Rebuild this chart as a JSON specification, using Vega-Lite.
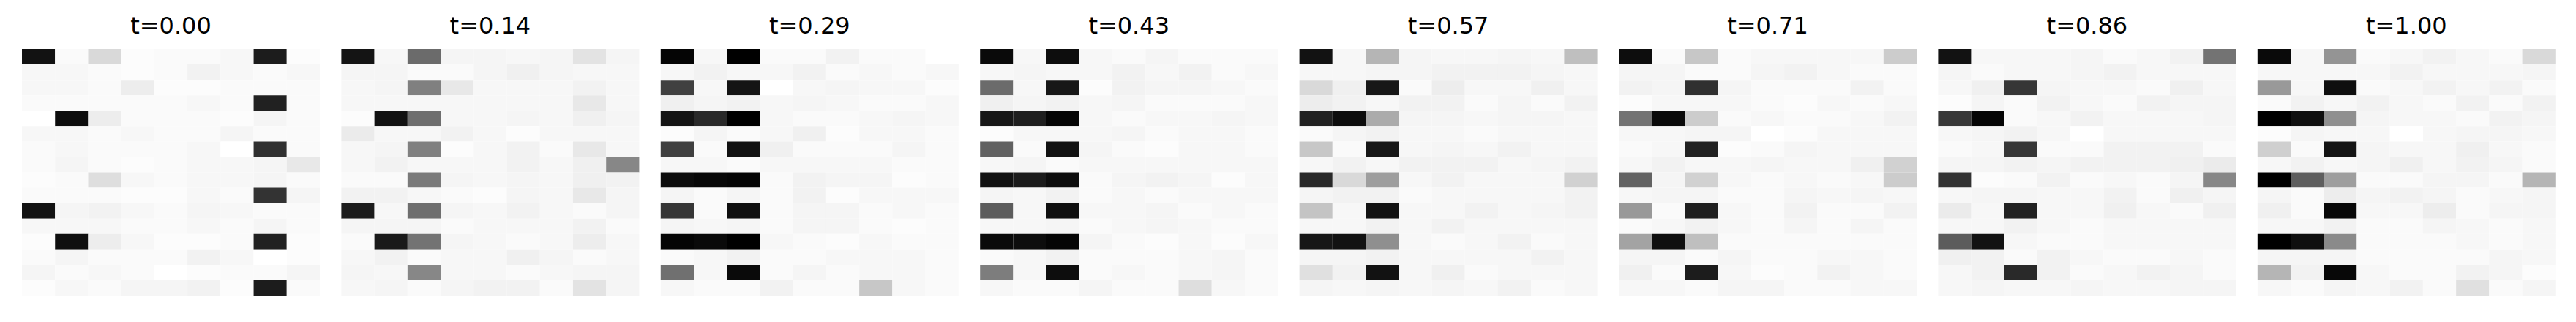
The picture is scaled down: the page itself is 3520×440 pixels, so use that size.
{
"$schema": "https://vega.github.io/schema/vega-lite/v6.json",
"padding": {"left": 30, "top": 20, "right": 0, "bottom": 0},
"autosize": {"type": "pad"},
"data": {"values": [
{"t":"t=0.00","r":0,"c":0,"v":0.93},{"t":"t=0.00","r":0,"c":1,"v":0.02},{"t":"t=0.00","r":0,"c":2,"v":0.15},{"t":"t=0.00","r":0,"c":3,"v":0.01},{"t":"t=0.00","r":0,"c":4,"v":0.02},{"t":"t=0.00","r":0,"c":5,"v":0.02},{"t":"t=0.00","r":0,"c":6,"v":0.03},{"t":"t=0.00","r":0,"c":7,"v":0.89},{"t":"t=0.00","r":0,"c":8,"v":0.01},
{"t":"t=0.00","r":1,"c":0,"v":0.03},{"t":"t=0.00","r":1,"c":1,"v":0.03},{"t":"t=0.00","r":1,"c":2,"v":0.02},{"t":"t=0.00","r":1,"c":3,"v":0.01},{"t":"t=0.00","r":1,"c":4,"v":0.02},{"t":"t=0.00","r":1,"c":5,"v":0.05},{"t":"t=0.00","r":1,"c":6,"v":0.03},{"t":"t=0.00","r":1,"c":7,"v":0.02},{"t":"t=0.00","r":1,"c":8,"v":0.03},
{"t":"t=0.00","r":2,"c":0,"v":0.03},{"t":"t=0.00","r":2,"c":1,"v":0.03},{"t":"t=0.00","r":2,"c":2,"v":0.02},{"t":"t=0.00","r":2,"c":3,"v":0.07},{"t":"t=0.00","r":2,"c":4,"v":0.01},{"t":"t=0.00","r":2,"c":5,"v":0.01},{"t":"t=0.00","r":2,"c":6,"v":0.02},{"t":"t=0.00","r":2,"c":7,"v":0.02},{"t":"t=0.00","r":2,"c":8,"v":0.02},
{"t":"t=0.00","r":3,"c":0,"v":0.02},{"t":"t=0.00","r":3,"c":1,"v":0.02},{"t":"t=0.00","r":3,"c":2,"v":0.02},{"t":"t=0.00","r":3,"c":3,"v":0.02},{"t":"t=0.00","r":3,"c":4,"v":0.02},{"t":"t=0.00","r":3,"c":5,"v":0.03},{"t":"t=0.00","r":3,"c":6,"v":0.02},{"t":"t=0.00","r":3,"c":7,"v":0.87},{"t":"t=0.00","r":3,"c":8,"v":0.02},
{"t":"t=0.00","r":4,"c":0,"v":0.0},{"t":"t=0.00","r":4,"c":1,"v":0.95},{"t":"t=0.00","r":4,"c":2,"v":0.07},{"t":"t=0.00","r":4,"c":3,"v":0.02},{"t":"t=0.00","r":4,"c":4,"v":0.02},{"t":"t=0.00","r":4,"c":5,"v":0.02},{"t":"t=0.00","r":4,"c":6,"v":0.01},{"t":"t=0.00","r":4,"c":7,"v":0.04},{"t":"t=0.00","r":4,"c":8,"v":0.02},
{"t":"t=0.00","r":5,"c":0,"v":0.03},{"t":"t=0.00","r":5,"c":1,"v":0.03},{"t":"t=0.00","r":5,"c":2,"v":0.02},{"t":"t=0.00","r":5,"c":3,"v":0.03},{"t":"t=0.00","r":5,"c":4,"v":0.02},{"t":"t=0.00","r":5,"c":5,"v":0.02},{"t":"t=0.00","r":5,"c":6,"v":0.04},{"t":"t=0.00","r":5,"c":7,"v":0.02},{"t":"t=0.00","r":5,"c":8,"v":0.02},
{"t":"t=0.00","r":6,"c":0,"v":0.02},{"t":"t=0.00","r":6,"c":1,"v":0.03},{"t":"t=0.00","r":6,"c":2,"v":0.02},{"t":"t=0.00","r":6,"c":3,"v":0.02},{"t":"t=0.00","r":6,"c":4,"v":0.02},{"t":"t=0.00","r":6,"c":5,"v":0.03},{"t":"t=0.00","r":6,"c":6,"v":0.0},{"t":"t=0.00","r":6,"c":7,"v":0.81},{"t":"t=0.00","r":6,"c":8,"v":0.02},
{"t":"t=0.00","r":7,"c":0,"v":0.02},{"t":"t=0.00","r":7,"c":1,"v":0.04},{"t":"t=0.00","r":7,"c":2,"v":0.02},{"t":"t=0.00","r":7,"c":3,"v":0.01},{"t":"t=0.00","r":7,"c":4,"v":0.02},{"t":"t=0.00","r":7,"c":5,"v":0.03},{"t":"t=0.00","r":7,"c":6,"v":0.03},{"t":"t=0.00","r":7,"c":7,"v":0.04},{"t":"t=0.00","r":7,"c":8,"v":0.09},
{"t":"t=0.00","r":8,"c":0,"v":0.01},{"t":"t=0.00","r":8,"c":1,"v":0.02},{"t":"t=0.00","r":8,"c":2,"v":0.13},{"t":"t=0.00","r":8,"c":3,"v":0.03},{"t":"t=0.00","r":8,"c":4,"v":0.02},{"t":"t=0.00","r":8,"c":5,"v":0.03},{"t":"t=0.00","r":8,"c":6,"v":0.03},{"t":"t=0.00","r":8,"c":7,"v":0.04},{"t":"t=0.00","r":8,"c":8,"v":0.02},
{"t":"t=0.00","r":9,"c":0,"v":0.02},{"t":"t=0.00","r":9,"c":1,"v":0.02},{"t":"t=0.00","r":9,"c":2,"v":0.02},{"t":"t=0.00","r":9,"c":3,"v":0.01},{"t":"t=0.00","r":9,"c":4,"v":0.01},{"t":"t=0.00","r":9,"c":5,"v":0.03},{"t":"t=0.00","r":9,"c":6,"v":0.02},{"t":"t=0.00","r":9,"c":7,"v":0.8},{"t":"t=0.00","r":9,"c":8,"v":0.04},
{"t":"t=0.00","r":10,"c":0,"v":0.93},{"t":"t=0.00","r":10,"c":1,"v":0.04},{"t":"t=0.00","r":10,"c":2,"v":0.05},{"t":"t=0.00","r":10,"c":3,"v":0.03},{"t":"t=0.00","r":10,"c":4,"v":0.02},{"t":"t=0.00","r":10,"c":5,"v":0.04},{"t":"t=0.00","r":10,"c":6,"v":0.03},{"t":"t=0.00","r":10,"c":7,"v":0.02},{"t":"t=0.00","r":10,"c":8,"v":0.02},
{"t":"t=0.00","r":11,"c":0,"v":0.03},{"t":"t=0.00","r":11,"c":1,"v":0.03},{"t":"t=0.00","r":11,"c":2,"v":0.03},{"t":"t=0.00","r":11,"c":3,"v":0.02},{"t":"t=0.00","r":11,"c":4,"v":0.02},{"t":"t=0.00","r":11,"c":5,"v":0.03},{"t":"t=0.00","r":11,"c":6,"v":0.02},{"t":"t=0.00","r":11,"c":7,"v":0.04},{"t":"t=0.00","r":11,"c":8,"v":0.02},
{"t":"t=0.00","r":12,"c":0,"v":0.01},{"t":"t=0.00","r":12,"c":1,"v":0.94},{"t":"t=0.00","r":12,"c":2,"v":0.07},{"t":"t=0.00","r":12,"c":3,"v":0.03},{"t":"t=0.00","r":12,"c":4,"v":0.01},{"t":"t=0.00","r":12,"c":5,"v":0.01},{"t":"t=0.00","r":12,"c":6,"v":0.02},{"t":"t=0.00","r":12,"c":7,"v":0.87},{"t":"t=0.00","r":12,"c":8,"v":0.01},
{"t":"t=0.00","r":13,"c":0,"v":0.02},{"t":"t=0.00","r":13,"c":1,"v":0.04},{"t":"t=0.00","r":13,"c":2,"v":0.02},{"t":"t=0.00","r":13,"c":3,"v":0.02},{"t":"t=0.00","r":13,"c":4,"v":0.02},{"t":"t=0.00","r":13,"c":5,"v":0.05},{"t":"t=0.00","r":13,"c":6,"v":0.03},{"t":"t=0.00","r":13,"c":7,"v":0.0},{"t":"t=0.00","r":13,"c":8,"v":0.01},
{"t":"t=0.00","r":14,"c":0,"v":0.04},{"t":"t=0.00","r":14,"c":1,"v":0.02},{"t":"t=0.00","r":14,"c":2,"v":0.03},{"t":"t=0.00","r":14,"c":3,"v":0.02},{"t":"t=0.00","r":14,"c":4,"v":0.0},{"t":"t=0.00","r":14,"c":5,"v":0.01},{"t":"t=0.00","r":14,"c":6,"v":0.02},{"t":"t=0.00","r":14,"c":7,"v":0.02},{"t":"t=0.00","r":14,"c":8,"v":0.04},
{"t":"t=0.00","r":15,"c":0,"v":0.01},{"t":"t=0.00","r":15,"c":1,"v":0.03},{"t":"t=0.00","r":15,"c":2,"v":0.02},{"t":"t=0.00","r":15,"c":3,"v":0.04},{"t":"t=0.00","r":15,"c":4,"v":0.04},{"t":"t=0.00","r":15,"c":5,"v":0.05},{"t":"t=0.00","r":15,"c":6,"v":0.01},{"t":"t=0.00","r":15,"c":7,"v":0.89},{"t":"t=0.00","r":15,"c":8,"v":0.02},

{"t":"t=0.14","r":0,"c":0,"v":0.92},{"t":"t=0.14","r":0,"c":1,"v":0.03},{"t":"t=0.14","r":0,"c":2,"v":0.58},{"t":"t=0.14","r":0,"c":3,"v":0.04},{"t":"t=0.14","r":0,"c":4,"v":0.04},{"t":"t=0.14","r":0,"c":5,"v":0.03},{"t":"t=0.14","r":0,"c":6,"v":0.04},{"t":"t=0.14","r":0,"c":7,"v":0.11},{"t":"t=0.14","r":0,"c":8,"v":0.04},
{"t":"t=0.14","r":1,"c":0,"v":0.04},{"t":"t=0.14","r":1,"c":1,"v":0.04},{"t":"t=0.14","r":1,"c":2,"v":0.02},{"t":"t=0.14","r":1,"c":3,"v":0.02},{"t":"t=0.14","r":1,"c":4,"v":0.04},{"t":"t=0.14","r":1,"c":5,"v":0.06},{"t":"t=0.14","r":1,"c":6,"v":0.04},{"t":"t=0.14","r":1,"c":7,"v":0.03},{"t":"t=0.14","r":1,"c":8,"v":0.03},
{"t":"t=0.14","r":2,"c":0,"v":0.03},{"t":"t=0.14","r":2,"c":1,"v":0.04},{"t":"t=0.14","r":2,"c":2,"v":0.5},{"t":"t=0.14","r":2,"c":3,"v":0.09},{"t":"t=0.14","r":2,"c":4,"v":0.03},{"t":"t=0.14","r":2,"c":5,"v":0.03},{"t":"t=0.14","r":2,"c":6,"v":0.03},{"t":"t=0.14","r":2,"c":7,"v":0.05},{"t":"t=0.14","r":2,"c":8,"v":0.03},
{"t":"t=0.14","r":3,"c":0,"v":0.03},{"t":"t=0.14","r":3,"c":1,"v":0.03},{"t":"t=0.14","r":3,"c":2,"v":0.03},{"t":"t=0.14","r":3,"c":3,"v":0.03},{"t":"t=0.14","r":3,"c":4,"v":0.03},{"t":"t=0.14","r":3,"c":5,"v":0.03},{"t":"t=0.14","r":3,"c":6,"v":0.03},{"t":"t=0.14","r":3,"c":7,"v":0.09},{"t":"t=0.14","r":3,"c":8,"v":0.03},
{"t":"t=0.14","r":4,"c":0,"v":0.01},{"t":"t=0.14","r":4,"c":1,"v":0.93},{"t":"t=0.14","r":4,"c":2,"v":0.57},{"t":"t=0.14","r":4,"c":3,"v":0.03},{"t":"t=0.14","r":4,"c":4,"v":0.03},{"t":"t=0.14","r":4,"c":5,"v":0.04},{"t":"t=0.14","r":4,"c":6,"v":0.03},{"t":"t=0.14","r":4,"c":7,"v":0.06},{"t":"t=0.14","r":4,"c":8,"v":0.04},
{"t":"t=0.14","r":5,"c":0,"v":0.08},{"t":"t=0.14","r":5,"c":1,"v":0.03},{"t":"t=0.14","r":5,"c":2,"v":0.03},{"t":"t=0.14","r":5,"c":3,"v":0.05},{"t":"t=0.14","r":5,"c":4,"v":0.03},{"t":"t=0.14","r":5,"c":5,"v":0.01},{"t":"t=0.14","r":5,"c":6,"v":0.03},{"t":"t=0.14","r":5,"c":7,"v":0.03},{"t":"t=0.14","r":5,"c":8,"v":0.03},
{"t":"t=0.14","r":6,"c":0,"v":0.03},{"t":"t=0.14","r":6,"c":1,"v":0.04},{"t":"t=0.14","r":6,"c":2,"v":0.5},{"t":"t=0.14","r":6,"c":3,"v":0.01},{"t":"t=0.14","r":6,"c":4,"v":0.03},{"t":"t=0.14","r":6,"c":5,"v":0.05},{"t":"t=0.14","r":6,"c":6,"v":0.02},{"t":"t=0.14","r":6,"c":7,"v":0.09},{"t":"t=0.14","r":6,"c":8,"v":0.03},
{"t":"t=0.14","r":7,"c":0,"v":0.03},{"t":"t=0.14","r":7,"c":1,"v":0.05},{"t":"t=0.14","r":7,"c":2,"v":0.03},{"t":"t=0.14","r":7,"c":3,"v":0.03},{"t":"t=0.14","r":7,"c":4,"v":0.03},{"t":"t=0.14","r":7,"c":5,"v":0.05},{"t":"t=0.14","r":7,"c":6,"v":0.03},{"t":"t=0.14","r":7,"c":7,"v":0.06},{"t":"t=0.14","r":7,"c":8,"v":0.47},
{"t":"t=0.14","r":8,"c":0,"v":0.02},{"t":"t=0.14","r":8,"c":1,"v":0.02},{"t":"t=0.14","r":8,"c":2,"v":0.52},{"t":"t=0.14","r":8,"c":3,"v":0.04},{"t":"t=0.14","r":8,"c":4,"v":0.03},{"t":"t=0.14","r":8,"c":5,"v":0.04},{"t":"t=0.14","r":8,"c":6,"v":0.03},{"t":"t=0.14","r":8,"c":7,"v":0.06},{"t":"t=0.14","r":8,"c":8,"v":0.05},
{"t":"t=0.14","r":9,"c":0,"v":0.05},{"t":"t=0.14","r":9,"c":1,"v":0.05},{"t":"t=0.14","r":9,"c":2,"v":0.03},{"t":"t=0.14","r":9,"c":3,"v":0.02},{"t":"t=0.14","r":9,"c":4,"v":0.01},{"t":"t=0.14","r":9,"c":5,"v":0.04},{"t":"t=0.14","r":9,"c":6,"v":0.03},{"t":"t=0.14","r":9,"c":7,"v":0.09},{"t":"t=0.14","r":9,"c":8,"v":0.04},
{"t":"t=0.14","r":10,"c":0,"v":0.89},{"t":"t=0.14","r":10,"c":1,"v":0.03},{"t":"t=0.14","r":10,"c":2,"v":0.57},{"t":"t=0.14","r":10,"c":3,"v":0.04},{"t":"t=0.14","r":10,"c":4,"v":0.03},{"t":"t=0.14","r":10,"c":5,"v":0.05},{"t":"t=0.14","r":10,"c":6,"v":0.03},{"t":"t=0.14","r":10,"c":7,"v":0.02},{"t":"t=0.14","r":10,"c":8,"v":0.04},
{"t":"t=0.14","r":11,"c":0,"v":0.04},{"t":"t=0.14","r":11,"c":1,"v":0.04},{"t":"t=0.14","r":11,"c":2,"v":0.04},{"t":"t=0.14","r":11,"c":3,"v":0.02},{"t":"t=0.14","r":11,"c":4,"v":0.03},{"t":"t=0.14","r":11,"c":5,"v":0.03},{"t":"t=0.14","r":11,"c":6,"v":0.03},{"t":"t=0.14","r":11,"c":7,"v":0.05},{"t":"t=0.14","r":11,"c":8,"v":0.02},
{"t":"t=0.14","r":12,"c":0,"v":0.02},{"t":"t=0.14","r":12,"c":1,"v":0.9},{"t":"t=0.14","r":12,"c":2,"v":0.55},{"t":"t=0.14","r":12,"c":3,"v":0.04},{"t":"t=0.14","r":12,"c":4,"v":0.03},{"t":"t=0.14","r":12,"c":5,"v":0.02},{"t":"t=0.14","r":12,"c":6,"v":0.03},{"t":"t=0.14","r":12,"c":7,"v":0.07},{"t":"t=0.14","r":12,"c":8,"v":0.03},
{"t":"t=0.14","r":13,"c":0,"v":0.03},{"t":"t=0.14","r":13,"c":1,"v":0.05},{"t":"t=0.14","r":13,"c":2,"v":0.02},{"t":"t=0.14","r":13,"c":3,"v":0.03},{"t":"t=0.14","r":13,"c":4,"v":0.03},{"t":"t=0.14","r":13,"c":5,"v":0.06},{"t":"t=0.14","r":13,"c":6,"v":0.04},{"t":"t=0.14","r":13,"c":7,"v":0.02},{"t":"t=0.14","r":13,"c":8,"v":0.03},
{"t":"t=0.14","r":14,"c":0,"v":0.04},{"t":"t=0.14","r":14,"c":1,"v":0.03},{"t":"t=0.14","r":14,"c":2,"v":0.47},{"t":"t=0.14","r":14,"c":3,"v":0.03},{"t":"t=0.14","r":14,"c":4,"v":0.03},{"t":"t=0.14","r":14,"c":5,"v":0.02},{"t":"t=0.14","r":14,"c":6,"v":0.03},{"t":"t=0.14","r":14,"c":7,"v":0.04},{"t":"t=0.14","r":14,"c":8,"v":0.04},
{"t":"t=0.14","r":15,"c":0,"v":0.03},{"t":"t=0.14","r":15,"c":1,"v":0.04},{"t":"t=0.14","r":15,"c":2,"v":0.02},{"t":"t=0.14","r":15,"c":3,"v":0.04},{"t":"t=0.14","r":15,"c":4,"v":0.05},{"t":"t=0.14","r":15,"c":5,"v":0.05},{"t":"t=0.14","r":15,"c":6,"v":0.02},{"t":"t=0.14","r":15,"c":7,"v":0.11},{"t":"t=0.14","r":15,"c":8,"v":0.04},

{"t":"t=0.29","r":0,"c":0,"v":0.98},{"t":"t=0.29","r":0,"c":1,"v":0.03},{"t":"t=0.29","r":0,"c":2,"v":1.0},{"t":"t=0.29","r":0,"c":3,"v":0.02},{"t":"t=0.29","r":0,"c":4,"v":0.02},{"t":"t=0.29","r":0,"c":5,"v":0.05},{"t":"t=0.29","r":0,"c":6,"v":0.02},{"t":"t=0.29","r":0,"c":7,"v":0.02},{"t":"t=0.29","r":0,"c":8,"v":0.0},
{"t":"t=0.29","r":1,"c":0,"v":0.03},{"t":"t=0.29","r":1,"c":1,"v":0.05},{"t":"t=0.29","r":1,"c":2,"v":0.03},{"t":"t=0.29","r":1,"c":3,"v":0.03},{"t":"t=0.29","r":1,"c":4,"v":0.05},{"t":"t=0.29","r":1,"c":5,"v":0.02},{"t":"t=0.29","r":1,"c":6,"v":0.03},{"t":"t=0.29","r":1,"c":7,"v":0.02},{"t":"t=0.29","r":1,"c":8,"v":0.03},
{"t":"t=0.29","r":2,"c":0,"v":0.75},{"t":"t=0.29","r":2,"c":1,"v":0.03},{"t":"t=0.29","r":2,"c":2,"v":0.92},{"t":"t=0.29","r":2,"c":3,"v":0.0},{"t":"t=0.29","r":2,"c":4,"v":0.03},{"t":"t=0.29","r":2,"c":5,"v":0.04},{"t":"t=0.29","r":2,"c":6,"v":0.03},{"t":"t=0.29","r":2,"c":7,"v":0.03},{"t":"t=0.29","r":2,"c":8,"v":0.01},
{"t":"t=0.29","r":3,"c":0,"v":0.06},{"t":"t=0.29","r":3,"c":1,"v":0.04},{"t":"t=0.29","r":3,"c":2,"v":0.05},{"t":"t=0.29","r":3,"c":3,"v":0.03},{"t":"t=0.29","r":3,"c":4,"v":0.04},{"t":"t=0.29","r":3,"c":5,"v":0.03},{"t":"t=0.29","r":3,"c":6,"v":0.02},{"t":"t=0.29","r":3,"c":7,"v":0.02},{"t":"t=0.29","r":3,"c":8,"v":0.03},
{"t":"t=0.29","r":4,"c":0,"v":0.92},{"t":"t=0.29","r":4,"c":1,"v":0.84},{"t":"t=0.29","r":4,"c":2,"v":1.0},{"t":"t=0.29","r":4,"c":3,"v":0.03},{"t":"t=0.29","r":4,"c":4,"v":0.02},{"t":"t=0.29","r":4,"c":5,"v":0.02},{"t":"t=0.29","r":4,"c":6,"v":0.03},{"t":"t=0.29","r":4,"c":7,"v":0.04},{"t":"t=0.29","r":4,"c":8,"v":0.03},
{"t":"t=0.29","r":5,"c":0,"v":0.01},{"t":"t=0.29","r":5,"c":1,"v":0.04},{"t":"t=0.29","r":5,"c":2,"v":0.02},{"t":"t=0.29","r":5,"c":3,"v":0.03},{"t":"t=0.29","r":5,"c":4,"v":0.06},{"t":"t=0.29","r":5,"c":5,"v":0.01},{"t":"t=0.29","r":5,"c":6,"v":0.03},{"t":"t=0.29","r":5,"c":7,"v":0.03},{"t":"t=0.29","r":5,"c":8,"v":0.02},
{"t":"t=0.29","r":6,"c":0,"v":0.75},{"t":"t=0.29","r":6,"c":1,"v":0.02},{"t":"t=0.29","r":6,"c":2,"v":0.93},{"t":"t=0.29","r":6,"c":3,"v":0.06},{"t":"t=0.29","r":6,"c":4,"v":0.02},{"t":"t=0.29","r":6,"c":5,"v":0.02},{"t":"t=0.29","r":6,"c":6,"v":0.02},{"t":"t=0.29","r":6,"c":7,"v":0.04},{"t":"t=0.29","r":6,"c":8,"v":0.02},
{"t":"t=0.29","r":7,"c":0,"v":0.03},{"t":"t=0.29","r":7,"c":1,"v":0.03},{"t":"t=0.29","r":7,"c":2,"v":0.02},{"t":"t=0.29","r":7,"c":3,"v":0.03},{"t":"t=0.29","r":7,"c":4,"v":0.03},{"t":"t=0.29","r":7,"c":5,"v":0.03},{"t":"t=0.29","r":7,"c":6,"v":0.03},{"t":"t=0.29","r":7,"c":7,"v":0.02},{"t":"t=0.29","r":7,"c":8,"v":0.02},
{"t":"t=0.29","r":8,"c":0,"v":0.95},{"t":"t=0.29","r":8,"c":1,"v":0.97},{"t":"t=0.29","r":8,"c":2,"v":0.98},{"t":"t=0.29","r":8,"c":3,"v":0.02},{"t":"t=0.29","r":8,"c":4,"v":0.05},{"t":"t=0.29","r":8,"c":5,"v":0.04},{"t":"t=0.29","r":8,"c":6,"v":0.04},{"t":"t=0.29","r":8,"c":7,"v":0.01},{"t":"t=0.29","r":8,"c":8,"v":0.02},
{"t":"t=0.29","r":9,"c":0,"v":0.04},{"t":"t=0.29","r":9,"c":1,"v":0.02},{"t":"t=0.29","r":9,"c":2,"v":0.04},{"t":"t=0.29","r":9,"c":3,"v":0.02},{"t":"t=0.29","r":9,"c":4,"v":0.05},{"t":"t=0.29","r":9,"c":5,"v":0.01},{"t":"t=0.29","r":9,"c":6,"v":0.03},{"t":"t=0.29","r":9,"c":7,"v":0.03},{"t":"t=0.29","r":9,"c":8,"v":0.03},
{"t":"t=0.29","r":10,"c":0,"v":0.79},{"t":"t=0.29","r":10,"c":1,"v":0.02},{"t":"t=0.29","r":10,"c":2,"v":0.94},{"t":"t=0.29","r":10,"c":3,"v":0.02},{"t":"t=0.29","r":10,"c":4,"v":0.04},{"t":"t=0.29","r":10,"c":5,"v":0.04},{"t":"t=0.29","r":10,"c":6,"v":0.02},{"t":"t=0.29","r":10,"c":7,"v":0.03},{"t":"t=0.29","r":10,"c":8,"v":0.02},
{"t":"t=0.29","r":11,"c":0,"v":0.04},{"t":"t=0.29","r":11,"c":1,"v":0.03},{"t":"t=0.29","r":11,"c":2,"v":0.04},{"t":"t=0.29","r":11,"c":3,"v":0.02},{"t":"t=0.29","r":11,"c":4,"v":0.04},{"t":"t=0.29","r":11,"c":5,"v":0.04},{"t":"t=0.29","r":11,"c":6,"v":0.02},{"t":"t=0.29","r":11,"c":7,"v":0.01},{"t":"t=0.29","r":11,"c":8,"v":0.02},
{"t":"t=0.29","r":12,"c":0,"v":0.98},{"t":"t=0.29","r":12,"c":1,"v":0.96},{"t":"t=0.29","r":12,"c":2,"v":1.0},{"t":"t=0.29","r":12,"c":3,"v":0.03},{"t":"t=0.29","r":12,"c":4,"v":0.02},{"t":"t=0.29","r":12,"c":5,"v":0.01},{"t":"t=0.29","r":12,"c":6,"v":0.03},{"t":"t=0.29","r":12,"c":7,"v":0.02},{"t":"t=0.29","r":12,"c":8,"v":0.02},
{"t":"t=0.29","r":13,"c":0,"v":0.02},{"t":"t=0.29","r":13,"c":1,"v":0.03},{"t":"t=0.29","r":13,"c":2,"v":0.05},{"t":"t=0.29","r":13,"c":3,"v":0.02},{"t":"t=0.29","r":13,"c":4,"v":0.02},{"t":"t=0.29","r":13,"c":5,"v":0.03},{"t":"t=0.29","r":13,"c":6,"v":0.03},{"t":"t=0.29","r":13,"c":7,"v":0.03},{"t":"t=0.29","r":13,"c":8,"v":0.02},
{"t":"t=0.29","r":14,"c":0,"v":0.56},{"t":"t=0.29","r":14,"c":1,"v":0.03},{"t":"t=0.29","r":14,"c":2,"v":0.96},{"t":"t=0.29","r":14,"c":3,"v":0.02},{"t":"t=0.29","r":14,"c":4,"v":0.04},{"t":"t=0.29","r":14,"c":5,"v":0.02},{"t":"t=0.29","r":14,"c":6,"v":0.03},{"t":"t=0.29","r":14,"c":7,"v":0.03},{"t":"t=0.29","r":14,"c":8,"v":0.02},
{"t":"t=0.29","r":15,"c":0,"v":0.03},{"t":"t=0.29","r":15,"c":1,"v":0.02},{"t":"t=0.29","r":15,"c":2,"v":0.02},{"t":"t=0.29","r":15,"c":3,"v":0.05},{"t":"t=0.29","r":15,"c":4,"v":0.02},{"t":"t=0.29","r":15,"c":5,"v":0.02},{"t":"t=0.29","r":15,"c":6,"v":0.22},{"t":"t=0.29","r":15,"c":7,"v":0.03},{"t":"t=0.29","r":15,"c":8,"v":0.02},

{"t":"t=0.43","r":0,"c":0,"v":0.96},{"t":"t=0.43","r":0,"c":1,"v":0.03},{"t":"t=0.43","r":0,"c":2,"v":0.95},{"t":"t=0.43","r":0,"c":3,"v":0.03},{"t":"t=0.43","r":0,"c":4,"v":0.02},{"t":"t=0.43","r":0,"c":5,"v":0.04},{"t":"t=0.43","r":0,"c":6,"v":0.02},{"t":"t=0.43","r":0,"c":7,"v":0.02},{"t":"t=0.43","r":0,"c":8,"v":0.02},
{"t":"t=0.43","r":1,"c":0,"v":0.03},{"t":"t=0.43","r":1,"c":1,"v":0.04},{"t":"t=0.43","r":1,"c":2,"v":0.03},{"t":"t=0.43","r":1,"c":3,"v":0.03},{"t":"t=0.43","r":1,"c":4,"v":0.05},{"t":"t=0.43","r":1,"c":5,"v":0.03},{"t":"t=0.43","r":1,"c":6,"v":0.05},{"t":"t=0.43","r":1,"c":7,"v":0.02},{"t":"t=0.43","r":1,"c":8,"v":0.03},
{"t":"t=0.43","r":2,"c":0,"v":0.58},{"t":"t=0.43","r":2,"c":1,"v":0.03},{"t":"t=0.43","r":2,"c":2,"v":0.91},{"t":"t=0.43","r":2,"c":3,"v":0.01},{"t":"t=0.43","r":2,"c":4,"v":0.05},{"t":"t=0.43","r":2,"c":5,"v":0.04},{"t":"t=0.43","r":2,"c":6,"v":0.04},{"t":"t=0.43","r":2,"c":7,"v":0.03},{"t":"t=0.43","r":2,"c":8,"v":0.02},
{"t":"t=0.43","r":3,"c":0,"v":0.06},{"t":"t=0.43","r":3,"c":1,"v":0.04},{"t":"t=0.43","r":3,"c":2,"v":0.05},{"t":"t=0.43","r":3,"c":3,"v":0.03},{"t":"t=0.43","r":3,"c":4,"v":0.04},{"t":"t=0.43","r":3,"c":5,"v":0.02},{"t":"t=0.43","r":3,"c":6,"v":0.02},{"t":"t=0.43","r":3,"c":7,"v":0.02},{"t":"t=0.43","r":3,"c":8,"v":0.03},
{"t":"t=0.43","r":4,"c":0,"v":0.91},{"t":"t=0.43","r":4,"c":1,"v":0.88},{"t":"t=0.43","r":4,"c":2,"v":0.98},{"t":"t=0.43","r":4,"c":3,"v":0.03},{"t":"t=0.43","r":4,"c":4,"v":0.02},{"t":"t=0.43","r":4,"c":5,"v":0.03},{"t":"t=0.43","r":4,"c":6,"v":0.03},{"t":"t=0.43","r":4,"c":7,"v":0.04},{"t":"t=0.43","r":4,"c":8,"v":0.03},
{"t":"t=0.43","r":5,"c":0,"v":0.01},{"t":"t=0.43","r":5,"c":1,"v":0.03},{"t":"t=0.43","r":5,"c":2,"v":0.03},{"t":"t=0.43","r":5,"c":3,"v":0.03},{"t":"t=0.43","r":5,"c":4,"v":0.04},{"t":"t=0.43","r":5,"c":5,"v":0.02},{"t":"t=0.43","r":5,"c":6,"v":0.03},{"t":"t=0.43","r":5,"c":7,"v":0.03},{"t":"t=0.43","r":5,"c":8,"v":0.02},
{"t":"t=0.43","r":6,"c":0,"v":0.62},{"t":"t=0.43","r":6,"c":1,"v":0.02},{"t":"t=0.43","r":6,"c":2,"v":0.93},{"t":"t=0.43","r":6,"c":3,"v":0.04},{"t":"t=0.43","r":6,"c":4,"v":0.02},{"t":"t=0.43","r":6,"c":5,"v":0.01},{"t":"t=0.43","r":6,"c":6,"v":0.03},{"t":"t=0.43","r":6,"c":7,"v":0.03},{"t":"t=0.43","r":6,"c":8,"v":0.02},
{"t":"t=0.43","r":7,"c":0,"v":0.03},{"t":"t=0.43","r":7,"c":1,"v":0.04},{"t":"t=0.43","r":7,"c":2,"v":0.02},{"t":"t=0.43","r":7,"c":3,"v":0.03},{"t":"t=0.43","r":7,"c":4,"v":0.03},{"t":"t=0.43","r":7,"c":5,"v":0.03},{"t":"t=0.43","r":7,"c":6,"v":0.03},{"t":"t=0.43","r":7,"c":7,"v":0.03},{"t":"t=0.43","r":7,"c":8,"v":0.03},
{"t":"t=0.43","r":8,"c":0,"v":0.93},{"t":"t=0.43","r":8,"c":1,"v":0.89},{"t":"t=0.43","r":8,"c":2,"v":0.95},{"t":"t=0.43","r":8,"c":3,"v":0.02},{"t":"t=0.43","r":8,"c":4,"v":0.04},{"t":"t=0.43","r":8,"c":5,"v":0.05},{"t":"t=0.43","r":8,"c":6,"v":0.04},{"t":"t=0.43","r":8,"c":7,"v":0.01},{"t":"t=0.43","r":8,"c":8,"v":0.03},
{"t":"t=0.43","r":9,"c":0,"v":0.04},{"t":"t=0.43","r":9,"c":1,"v":0.03},{"t":"t=0.43","r":9,"c":2,"v":0.05},{"t":"t=0.43","r":9,"c":3,"v":0.02},{"t":"t=0.43","r":9,"c":4,"v":0.03},{"t":"t=0.43","r":9,"c":5,"v":0.02},{"t":"t=0.43","r":9,"c":6,"v":0.03},{"t":"t=0.43","r":9,"c":7,"v":0.03},{"t":"t=0.43","r":9,"c":8,"v":0.03},
{"t":"t=0.43","r":10,"c":0,"v":0.64},{"t":"t=0.43","r":10,"c":1,"v":0.03},{"t":"t=0.43","r":10,"c":2,"v":0.94},{"t":"t=0.43","r":10,"c":3,"v":0.03},{"t":"t=0.43","r":10,"c":4,"v":0.03},{"t":"t=0.43","r":10,"c":5,"v":0.04},{"t":"t=0.43","r":10,"c":6,"v":0.02},{"t":"t=0.43","r":10,"c":7,"v":0.03},{"t":"t=0.43","r":10,"c":8,"v":0.02},
{"t":"t=0.43","r":11,"c":0,"v":0.03},{"t":"t=0.43","r":11,"c":1,"v":0.03},{"t":"t=0.43","r":11,"c":2,"v":0.04},{"t":"t=0.43","r":11,"c":3,"v":0.02},{"t":"t=0.43","r":11,"c":4,"v":0.03},{"t":"t=0.43","r":11,"c":5,"v":0.04},{"t":"t=0.43","r":11,"c":6,"v":0.03},{"t":"t=0.43","r":11,"c":7,"v":0.02},{"t":"t=0.43","r":11,"c":8,"v":0.02},
{"t":"t=0.43","r":12,"c":0,"v":0.96},{"t":"t=0.43","r":12,"c":1,"v":0.95},{"t":"t=0.43","r":12,"c":2,"v":0.98},{"t":"t=0.43","r":12,"c":3,"v":0.04},{"t":"t=0.43","r":12,"c":4,"v":0.02},{"t":"t=0.43","r":12,"c":5,"v":0.01},{"t":"t=0.43","r":12,"c":6,"v":0.03},{"t":"t=0.43","r":12,"c":7,"v":0.01},{"t":"t=0.43","r":12,"c":8,"v":0.03},
{"t":"t=0.43","r":13,"c":0,"v":0.02},{"t":"t=0.43","r":13,"c":1,"v":0.03},{"t":"t=0.43","r":13,"c":2,"v":0.05},{"t":"t=0.43","r":13,"c":3,"v":0.02},{"t":"t=0.43","r":13,"c":4,"v":0.02},{"t":"t=0.43","r":13,"c":5,"v":0.02},{"t":"t=0.43","r":13,"c":6,"v":0.03},{"t":"t=0.43","r":13,"c":7,"v":0.04},{"t":"t=0.43","r":13,"c":8,"v":0.02},
{"t":"t=0.43","r":14,"c":0,"v":0.51},{"t":"t=0.43","r":14,"c":1,"v":0.03},{"t":"t=0.43","r":14,"c":2,"v":0.95},{"t":"t=0.43","r":14,"c":3,"v":0.02},{"t":"t=0.43","r":14,"c":4,"v":0.03},{"t":"t=0.43","r":14,"c":5,"v":0.02},{"t":"t=0.43","r":14,"c":6,"v":0.03},{"t":"t=0.43","r":14,"c":7,"v":0.04},{"t":"t=0.43","r":14,"c":8,"v":0.02},
{"t":"t=0.43","r":15,"c":0,"v":0.03},{"t":"t=0.43","r":15,"c":1,"v":0.02},{"t":"t=0.43","r":15,"c":2,"v":0.02},{"t":"t=0.43","r":15,"c":3,"v":0.04},{"t":"t=0.43","r":15,"c":4,"v":0.02},{"t":"t=0.43","r":15,"c":5,"v":0.02},{"t":"t=0.43","r":15,"c":6,"v":0.13},{"t":"t=0.43","r":15,"c":7,"v":0.03},{"t":"t=0.43","r":15,"c":8,"v":0.02},

{"t":"t=0.57","r":0,"c":0,"v":0.93},{"t":"t=0.57","r":0,"c":1,"v":0.03},{"t":"t=0.57","r":0,"c":2,"v":0.29},{"t":"t=0.57","r":0,"c":3,"v":0.04},{"t":"t=0.57","r":0,"c":4,"v":0.03},{"t":"t=0.57","r":0,"c":5,"v":0.03},{"t":"t=0.57","r":0,"c":6,"v":0.04},{"t":"t=0.57","r":0,"c":7,"v":0.03},{"t":"t=0.57","r":0,"c":8,"v":0.25},
{"t":"t=0.57","r":1,"c":0,"v":0.03},{"t":"t=0.57","r":1,"c":1,"v":0.03},{"t":"t=0.57","r":1,"c":2,"v":0.04},{"t":"t=0.57","r":1,"c":3,"v":0.04},{"t":"t=0.57","r":1,"c":4,"v":0.05},{"t":"t=0.57","r":1,"c":5,"v":0.05},{"t":"t=0.57","r":1,"c":6,"v":0.05},{"t":"t=0.57","r":1,"c":7,"v":0.04},{"t":"t=0.57","r":1,"c":8,"v":0.03},
{"t":"t=0.57","r":2,"c":0,"v":0.15},{"t":"t=0.57","r":2,"c":1,"v":0.06},{"t":"t=0.57","r":2,"c":2,"v":0.91},{"t":"t=0.57","r":2,"c":3,"v":0.02},{"t":"t=0.57","r":2,"c":4,"v":0.07},{"t":"t=0.57","r":2,"c":5,"v":0.03},{"t":"t=0.57","r":2,"c":6,"v":0.03},{"t":"t=0.57","r":2,"c":7,"v":0.06},{"t":"t=0.57","r":2,"c":8,"v":0.03},
{"t":"t=0.57","r":3,"c":0,"v":0.07},{"t":"t=0.57","r":3,"c":1,"v":0.05},{"t":"t=0.57","r":3,"c":2,"v":0.03},{"t":"t=0.57","r":3,"c":3,"v":0.05},{"t":"t=0.57","r":3,"c":4,"v":0.05},{"t":"t=0.57","r":3,"c":5,"v":0.02},{"t":"t=0.57","r":3,"c":6,"v":0.04},{"t":"t=0.57","r":3,"c":7,"v":0.02},{"t":"t=0.57","r":3,"c":8,"v":0.05},
{"t":"t=0.57","r":4,"c":0,"v":0.87},{"t":"t=0.57","r":4,"c":1,"v":0.95},{"t":"t=0.57","r":4,"c":2,"v":0.33},{"t":"t=0.57","r":4,"c":3,"v":0.04},{"t":"t=0.57","r":4,"c":4,"v":0.04},{"t":"t=0.57","r":4,"c":5,"v":0.03},{"t":"t=0.57","r":4,"c":6,"v":0.04},{"t":"t=0.57","r":4,"c":7,"v":0.04},{"t":"t=0.57","r":4,"c":8,"v":0.03},
{"t":"t=0.57","r":5,"c":0,"v":0.02},{"t":"t=0.57","r":5,"c":1,"v":0.04},{"t":"t=0.57","r":5,"c":2,"v":0.05},{"t":"t=0.57","r":5,"c":3,"v":0.03},{"t":"t=0.57","r":5,"c":4,"v":0.03},{"t":"t=0.57","r":5,"c":5,"v":0.02},{"t":"t=0.57","r":5,"c":6,"v":0.03},{"t":"t=0.57","r":5,"c":7,"v":0.03},{"t":"t=0.57","r":5,"c":8,"v":0.03},
{"t":"t=0.57","r":6,"c":0,"v":0.22},{"t":"t=0.57","r":6,"c":1,"v":0.02},{"t":"t=0.57","r":6,"c":2,"v":0.91},{"t":"t=0.57","r":6,"c":3,"v":0.03},{"t":"t=0.57","r":6,"c":4,"v":0.04},{"t":"t=0.57","r":6,"c":5,"v":0.03},{"t":"t=0.57","r":6,"c":6,"v":0.05},{"t":"t=0.57","r":6,"c":7,"v":0.03},{"t":"t=0.57","r":6,"c":8,"v":0.03},
{"t":"t=0.57","r":7,"c":0,"v":0.03},{"t":"t=0.57","r":7,"c":1,"v":0.05},{"t":"t=0.57","r":7,"c":2,"v":0.03},{"t":"t=0.57","r":7,"c":3,"v":0.05},{"t":"t=0.57","r":7,"c":4,"v":0.05},{"t":"t=0.57","r":7,"c":5,"v":0.05},{"t":"t=0.57","r":7,"c":6,"v":0.03},{"t":"t=0.57","r":7,"c":7,"v":0.04},{"t":"t=0.57","r":7,"c":8,"v":0.05},
{"t":"t=0.57","r":8,"c":0,"v":0.84},{"t":"t=0.57","r":8,"c":1,"v":0.15},{"t":"t=0.57","r":8,"c":2,"v":0.38},{"t":"t=0.57","r":8,"c":3,"v":0.03},{"t":"t=0.57","r":8,"c":4,"v":0.05},{"t":"t=0.57","r":8,"c":5,"v":0.03},{"t":"t=0.57","r":8,"c":6,"v":0.03},{"t":"t=0.57","r":8,"c":7,"v":0.03},{"t":"t=0.57","r":8,"c":8,"v":0.18},
{"t":"t=0.57","r":9,"c":0,"v":0.04},{"t":"t=0.57","r":9,"c":1,"v":0.05},{"t":"t=0.57","r":9,"c":2,"v":0.05},{"t":"t=0.57","r":9,"c":3,"v":0.02},{"t":"t=0.57","r":9,"c":4,"v":0.03},{"t":"t=0.57","r":9,"c":5,"v":0.03},{"t":"t=0.57","r":9,"c":6,"v":0.03},{"t":"t=0.57","r":9,"c":7,"v":0.03},{"t":"t=0.57","r":9,"c":8,"v":0.05},
{"t":"t=0.57","r":10,"c":0,"v":0.23},{"t":"t=0.57","r":10,"c":1,"v":0.03},{"t":"t=0.57","r":10,"c":2,"v":0.93},{"t":"t=0.57","r":10,"c":3,"v":0.03},{"t":"t=0.57","r":10,"c":4,"v":0.03},{"t":"t=0.57","r":10,"c":5,"v":0.05},{"t":"t=0.57","r":10,"c":6,"v":0.03},{"t":"t=0.57","r":10,"c":7,"v":0.04},{"t":"t=0.57","r":10,"c":8,"v":0.05},
{"t":"t=0.57","r":11,"c":0,"v":0.03},{"t":"t=0.57","r":11,"c":1,"v":0.03},{"t":"t=0.57","r":11,"c":2,"v":0.05},{"t":"t=0.57","r":11,"c":3,"v":0.03},{"t":"t=0.57","r":11,"c":4,"v":0.05},{"t":"t=0.57","r":11,"c":5,"v":0.03},{"t":"t=0.57","r":11,"c":6,"v":0.03},{"t":"t=0.57","r":11,"c":7,"v":0.03},{"t":"t=0.57","r":11,"c":8,"v":0.03},
{"t":"t=0.57","r":12,"c":0,"v":0.91},{"t":"t=0.57","r":12,"c":1,"v":0.93},{"t":"t=0.57","r":12,"c":2,"v":0.44},{"t":"t=0.57","r":12,"c":3,"v":0.03},{"t":"t=0.57","r":12,"c":4,"v":0.02},{"t":"t=0.57","r":12,"c":5,"v":0.03},{"t":"t=0.57","r":12,"c":6,"v":0.05},{"t":"t=0.57","r":12,"c":7,"v":0.02},{"t":"t=0.57","r":12,"c":8,"v":0.03},
{"t":"t=0.57","r":13,"c":0,"v":0.04},{"t":"t=0.57","r":13,"c":1,"v":0.04},{"t":"t=0.57","r":13,"c":2,"v":0.05},{"t":"t=0.57","r":13,"c":3,"v":0.03},{"t":"t=0.57","r":13,"c":4,"v":0.03},{"t":"t=0.57","r":13,"c":5,"v":0.03},{"t":"t=0.57","r":13,"c":6,"v":0.03},{"t":"t=0.57","r":13,"c":7,"v":0.05},{"t":"t=0.57","r":13,"c":8,"v":0.03},
{"t":"t=0.57","r":14,"c":0,"v":0.12},{"t":"t=0.57","r":14,"c":1,"v":0.05},{"t":"t=0.57","r":14,"c":2,"v":0.93},{"t":"t=0.57","r":14,"c":3,"v":0.03},{"t":"t=0.57","r":14,"c":4,"v":0.06},{"t":"t=0.57","r":14,"c":5,"v":0.02},{"t":"t=0.57","r":14,"c":6,"v":0.03},{"t":"t=0.57","r":14,"c":7,"v":0.03},{"t":"t=0.57","r":14,"c":8,"v":0.03},
{"t":"t=0.57","r":15,"c":0,"v":0.04},{"t":"t=0.57","r":15,"c":1,"v":0.03},{"t":"t=0.57","r":15,"c":2,"v":0.04},{"t":"t=0.57","r":15,"c":3,"v":0.03},{"t":"t=0.57","r":15,"c":4,"v":0.04},{"t":"t=0.57","r":15,"c":5,"v":0.03},{"t":"t=0.57","r":15,"c":6,"v":0.05},{"t":"t=0.57","r":15,"c":7,"v":0.02},{"t":"t=0.57","r":15,"c":8,"v":0.03},

{"t":"t=0.71","r":0,"c":0,"v":0.95},{"t":"t=0.71","r":0,"c":1,"v":0.02},{"t":"t=0.71","r":0,"c":2,"v":0.22},{"t":"t=0.71","r":0,"c":3,"v":0.02},{"t":"t=0.71","r":0,"c":4,"v":0.03},{"t":"t=0.71","r":0,"c":5,"v":0.03},{"t":"t=0.71","r":0,"c":6,"v":0.03},{"t":"t=0.71","r":0,"c":7,"v":0.03},{"t":"t=0.71","r":0,"c":8,"v":0.2},
{"t":"t=0.71","r":1,"c":0,"v":0.04},{"t":"t=0.71","r":1,"c":1,"v":0.04},{"t":"t=0.71","r":1,"c":2,"v":0.02},{"t":"t=0.71","r":1,"c":3,"v":0.02},{"t":"t=0.71","r":1,"c":4,"v":0.04},{"t":"t=0.71","r":1,"c":5,"v":0.05},{"t":"t=0.71","r":1,"c":6,"v":0.03},{"t":"t=0.71","r":1,"c":7,"v":0.02},{"t":"t=0.71","r":1,"c":8,"v":0.02},
{"t":"t=0.71","r":2,"c":0,"v":0.05},{"t":"t=0.71","r":2,"c":1,"v":0.04},{"t":"t=0.71","r":2,"c":2,"v":0.81},{"t":"t=0.71","r":2,"c":3,"v":0.04},{"t":"t=0.71","r":2,"c":4,"v":0.02},{"t":"t=0.71","r":2,"c":5,"v":0.02},{"t":"t=0.71","r":2,"c":6,"v":0.02},{"t":"t=0.71","r":2,"c":7,"v":0.05},{"t":"t=0.71","r":2,"c":8,"v":0.02},
{"t":"t=0.71","r":3,"c":0,"v":0.01},{"t":"t=0.71","r":3,"c":1,"v":0.03},{"t":"t=0.71","r":3,"c":2,"v":0.03},{"t":"t=0.71","r":3,"c":3,"v":0.03},{"t":"t=0.71","r":3,"c":4,"v":0.02},{"t":"t=0.71","r":3,"c":5,"v":0.01},{"t":"t=0.71","r":3,"c":6,"v":0.03},{"t":"t=0.71","r":3,"c":7,"v":0.02},{"t":"t=0.71","r":3,"c":8,"v":0.03},
{"t":"t=0.71","r":4,"c":0,"v":0.55},{"t":"t=0.71","r":4,"c":1,"v":0.96},{"t":"t=0.71","r":4,"c":2,"v":0.2},{"t":"t=0.71","r":4,"c":3,"v":0.02},{"t":"t=0.71","r":4,"c":4,"v":0.03},{"t":"t=0.71","r":4,"c":5,"v":0.02},{"t":"t=0.71","r":4,"c":6,"v":0.02},{"t":"t=0.71","r":4,"c":7,"v":0.03},{"t":"t=0.71","r":4,"c":8,"v":0.05},
{"t":"t=0.71","r":5,"c":0,"v":0.03},{"t":"t=0.71","r":5,"c":1,"v":0.03},{"t":"t=0.71","r":5,"c":2,"v":0.04},{"t":"t=0.71","r":5,"c":3,"v":0.04},{"t":"t=0.71","r":5,"c":4,"v":0.0},{"t":"t=0.71","r":5,"c":5,"v":0.01},{"t":"t=0.71","r":5,"c":6,"v":0.03},{"t":"t=0.71","r":5,"c":7,"v":0.03},{"t":"t=0.71","r":5,"c":8,"v":0.03},
{"t":"t=0.71","r":6,"c":0,"v":0.02},{"t":"t=0.71","r":6,"c":1,"v":0.03},{"t":"t=0.71","r":6,"c":2,"v":0.87},{"t":"t=0.71","r":6,"c":3,"v":0.01},{"t":"t=0.71","r":6,"c":4,"v":0.02},{"t":"t=0.71","r":6,"c":5,"v":0.04},{"t":"t=0.71","r":6,"c":6,"v":0.03},{"t":"t=0.71","r":6,"c":7,"v":0.03},{"t":"t=0.71","r":6,"c":8,"v":0.03},
{"t":"t=0.71","r":7,"c":0,"v":0.03},{"t":"t=0.71","r":7,"c":1,"v":0.05},{"t":"t=0.71","r":7,"c":2,"v":0.03},{"t":"t=0.71","r":7,"c":3,"v":0.03},{"t":"t=0.71","r":7,"c":4,"v":0.04},{"t":"t=0.71","r":7,"c":5,"v":0.03},{"t":"t=0.71","r":7,"c":6,"v":0.03},{"t":"t=0.71","r":7,"c":7,"v":0.06},{"t":"t=0.71","r":7,"c":8,"v":0.18},
{"t":"t=0.71","r":8,"c":0,"v":0.61},{"t":"t=0.71","r":8,"c":1,"v":0.04},{"t":"t=0.71","r":8,"c":2,"v":0.18},{"t":"t=0.71","r":8,"c":3,"v":0.03},{"t":"t=0.71","r":8,"c":4,"v":0.02},{"t":"t=0.71","r":8,"c":5,"v":0.03},{"t":"t=0.71","r":8,"c":6,"v":0.02},{"t":"t=0.71","r":8,"c":7,"v":0.03},{"t":"t=0.71","r":8,"c":8,"v":0.2},
{"t":"t=0.71","r":9,"c":0,"v":0.03},{"t":"t=0.71","r":9,"c":1,"v":0.04},{"t":"t=0.71","r":9,"c":2,"v":0.04},{"t":"t=0.71","r":9,"c":3,"v":0.02},{"t":"t=0.71","r":9,"c":4,"v":0.02},{"t":"t=0.71","r":9,"c":5,"v":0.04},{"t":"t=0.71","r":9,"c":6,"v":0.03},{"t":"t=0.71","r":9,"c":7,"v":0.04},{"t":"t=0.71","r":9,"c":8,"v":0.03},
{"t":"t=0.71","r":10,"c":0,"v":0.4},{"t":"t=0.71","r":10,"c":1,"v":0.02},{"t":"t=0.71","r":10,"c":2,"v":0.88},{"t":"t=0.71","r":10,"c":3,"v":0.03},{"t":"t=0.71","r":10,"c":4,"v":0.02},{"t":"t=0.71","r":10,"c":5,"v":0.05},{"t":"t=0.71","r":10,"c":6,"v":0.02},{"t":"t=0.71","r":10,"c":7,"v":0.02},{"t":"t=0.71","r":10,"c":8,"v":0.05},
{"t":"t=0.71","r":11,"c":0,"v":0.02},{"t":"t=0.71","r":11,"c":1,"v":0.03},{"t":"t=0.71","r":11,"c":2,"v":0.05},{"t":"t=0.71","r":11,"c":3,"v":0.03},{"t":"t=0.71","r":11,"c":4,"v":0.02},{"t":"t=0.71","r":11,"c":5,"v":0.04},{"t":"t=0.71","r":11,"c":6,"v":0.02},{"t":"t=0.71","r":11,"c":7,"v":0.04},{"t":"t=0.71","r":11,"c":8,"v":0.02},
{"t":"t=0.71","r":12,"c":0,"v":0.36},{"t":"t=0.71","r":12,"c":1,"v":0.94},{"t":"t=0.71","r":12,"c":2,"v":0.25},{"t":"t=0.71","r":12,"c":3,"v":0.02},{"t":"t=0.71","r":12,"c":4,"v":0.02},{"t":"t=0.71","r":12,"c":5,"v":0.02},{"t":"t=0.71","r":12,"c":6,"v":0.02},{"t":"t=0.71","r":12,"c":7,"v":0.02},{"t":"t=0.71","r":12,"c":8,"v":0.02},
{"t":"t=0.71","r":13,"c":0,"v":0.04},{"t":"t=0.71","r":13,"c":1,"v":0.04},{"t":"t=0.71","r":13,"c":2,"v":0.02},{"t":"t=0.71","r":13,"c":3,"v":0.04},{"t":"t=0.71","r":13,"c":4,"v":0.02},{"t":"t=0.71","r":13,"c":5,"v":0.02},{"t":"t=0.71","r":13,"c":6,"v":0.03},{"t":"t=0.71","r":13,"c":7,"v":0.03},{"t":"t=0.71","r":13,"c":8,"v":0.02},
{"t":"t=0.71","r":14,"c":0,"v":0.06},{"t":"t=0.71","r":14,"c":1,"v":0.02},{"t":"t=0.71","r":14,"c":2,"v":0.89},{"t":"t=0.71","r":14,"c":3,"v":0.03},{"t":"t=0.71","r":14,"c":4,"v":0.01},{"t":"t=0.71","r":14,"c":5,"v":0.02},{"t":"t=0.71","r":14,"c":6,"v":0.05},{"t":"t=0.71","r":14,"c":7,"v":0.03},{"t":"t=0.71","r":14,"c":8,"v":0.02},
{"t":"t=0.71","r":15,"c":0,"v":0.03},{"t":"t=0.71","r":15,"c":1,"v":0.03},{"t":"t=0.71","r":15,"c":2,"v":0.02},{"t":"t=0.71","r":15,"c":3,"v":0.04},{"t":"t=0.71","r":15,"c":4,"v":0.04},{"t":"t=0.71","r":15,"c":5,"v":0.02},{"t":"t=0.71","r":15,"c":6,"v":0.02},{"t":"t=0.71","r":15,"c":7,"v":0.03},{"t":"t=0.71","r":15,"c":8,"v":0.03},

{"t":"t=0.86","r":0,"c":0,"v":0.93},{"t":"t=0.86","r":0,"c":1,"v":0.03},{"t":"t=0.86","r":0,"c":2,"v":0.03},{"t":"t=0.86","r":0,"c":3,"v":0.03},{"t":"t=0.86","r":0,"c":4,"v":0.04},{"t":"t=0.86","r":0,"c":5,"v":0.02},{"t":"t=0.86","r":0,"c":6,"v":0.03},{"t":"t=0.86","r":0,"c":7,"v":0.05},{"t":"t=0.86","r":0,"c":8,"v":0.55},
{"t":"t=0.86","r":1,"c":0,"v":0.04},{"t":"t=0.86","r":1,"c":1,"v":0.02},{"t":"t=0.86","r":1,"c":2,"v":0.03},{"t":"t=0.86","r":1,"c":3,"v":0.03},{"t":"t=0.86","r":1,"c":4,"v":0.04},{"t":"t=0.86","r":1,"c":5,"v":0.05},{"t":"t=0.86","r":1,"c":6,"v":0.03},{"t":"t=0.86","r":1,"c":7,"v":0.03},{"t":"t=0.86","r":1,"c":8,"v":0.03},
{"t":"t=0.86","r":2,"c":0,"v":0.03},{"t":"t=0.86","r":2,"c":1,"v":0.06},{"t":"t=0.86","r":2,"c":2,"v":0.79},{"t":"t=0.86","r":2,"c":3,"v":0.04},{"t":"t=0.86","r":2,"c":4,"v":0.03},{"t":"t=0.86","r":2,"c":5,"v":0.03},{"t":"t=0.86","r":2,"c":6,"v":0.02},{"t":"t=0.86","r":2,"c":7,"v":0.06},{"t":"t=0.86","r":2,"c":8,"v":0.03},
{"t":"t=0.86","r":3,"c":0,"v":0.01},{"t":"t=0.86","r":3,"c":1,"v":0.04},{"t":"t=0.86","r":3,"c":2,"v":0.02},{"t":"t=0.86","r":3,"c":3,"v":0.05},{"t":"t=0.86","r":3,"c":4,"v":0.03},{"t":"t=0.86","r":3,"c":5,"v":0.02},{"t":"t=0.86","r":3,"c":6,"v":0.05},{"t":"t=0.86","r":3,"c":7,"v":0.04},{"t":"t=0.86","r":3,"c":8,"v":0.04},
{"t":"t=0.86","r":4,"c":0,"v":0.78},{"t":"t=0.86","r":4,"c":1,"v":0.98},{"t":"t=0.86","r":4,"c":2,"v":0.02},{"t":"t=0.86","r":4,"c":3,"v":0.03},{"t":"t=0.86","r":4,"c":4,"v":0.05},{"t":"t=0.86","r":4,"c":5,"v":0.03},{"t":"t=0.86","r":4,"c":6,"v":0.03},{"t":"t=0.86","r":4,"c":7,"v":0.03},{"t":"t=0.86","r":4,"c":8,"v":0.04},
{"t":"t=0.86","r":5,"c":0,"v":0.03},{"t":"t=0.86","r":5,"c":1,"v":0.04},{"t":"t=0.86","r":5,"c":2,"v":0.05},{"t":"t=0.86","r":5,"c":3,"v":0.03},{"t":"t=0.86","r":5,"c":4,"v":0.0},{"t":"t=0.86","r":5,"c":5,"v":0.03},{"t":"t=0.86","r":5,"c":6,"v":0.03},{"t":"t=0.86","r":5,"c":7,"v":0.03},{"t":"t=0.86","r":5,"c":8,"v":0.03},
{"t":"t=0.86","r":6,"c":0,"v":0.02},{"t":"t=0.86","r":6,"c":1,"v":0.03},{"t":"t=0.86","r":6,"c":2,"v":0.79},{"t":"t=0.86","r":6,"c":3,"v":0.02},{"t":"t=0.86","r":6,"c":4,"v":0.02},{"t":"t=0.86","r":6,"c":5,"v":0.05},{"t":"t=0.86","r":6,"c":6,"v":0.05},{"t":"t=0.86","r":6,"c":7,"v":0.05},{"t":"t=0.86","r":6,"c":8,"v":0.02},
{"t":"t=0.86","r":7,"c":0,"v":0.04},{"t":"t=0.86","r":7,"c":1,"v":0.04},{"t":"t=0.86","r":7,"c":2,"v":0.05},{"t":"t=0.86","r":7,"c":3,"v":0.04},{"t":"t=0.86","r":7,"c":4,"v":0.05},{"t":"t=0.86","r":7,"c":5,"v":0.05},{"t":"t=0.86","r":7,"c":6,"v":0.05},{"t":"t=0.86","r":7,"c":7,"v":0.06},{"t":"t=0.86","r":7,"c":8,"v":0.08},
{"t":"t=0.86","r":8,"c":0,"v":0.8},{"t":"t=0.86","r":8,"c":1,"v":0.01},{"t":"t=0.86","r":8,"c":2,"v":0.02},{"t":"t=0.86","r":8,"c":3,"v":0.05},{"t":"t=0.86","r":8,"c":4,"v":0.02},{"t":"t=0.86","r":8,"c":5,"v":0.03},{"t":"t=0.86","r":8,"c":6,"v":0.02},{"t":"t=0.86","r":8,"c":7,"v":0.04},{"t":"t=0.86","r":8,"c":8,"v":0.47},
{"t":"t=0.86","r":9,"c":0,"v":0.03},{"t":"t=0.86","r":9,"c":1,"v":0.04},{"t":"t=0.86","r":9,"c":2,"v":0.04},{"t":"t=0.86","r":9,"c":3,"v":0.03},{"t":"t=0.86","r":9,"c":4,"v":0.03},{"t":"t=0.86","r":9,"c":5,"v":0.05},{"t":"t=0.86","r":9,"c":6,"v":0.02},{"t":"t=0.86","r":9,"c":7,"v":0.06},{"t":"t=0.86","r":9,"c":8,"v":0.04},
{"t":"t=0.86","r":10,"c":0,"v":0.08},{"t":"t=0.86","r":10,"c":1,"v":0.03},{"t":"t=0.86","r":10,"c":2,"v":0.87},{"t":"t=0.86","r":10,"c":3,"v":0.03},{"t":"t=0.86","r":10,"c":4,"v":0.03},{"t":"t=0.86","r":10,"c":5,"v":0.06},{"t":"t=0.86","r":10,"c":6,"v":0.03},{"t":"t=0.86","r":10,"c":7,"v":0.02},{"t":"t=0.86","r":10,"c":8,"v":0.06},
{"t":"t=0.86","r":11,"c":0,"v":0.03},{"t":"t=0.86","r":11,"c":1,"v":0.03},{"t":"t=0.86","r":11,"c":2,"v":0.05},{"t":"t=0.86","r":11,"c":3,"v":0.03},{"t":"t=0.86","r":11,"c":4,"v":0.02},{"t":"t=0.86","r":11,"c":5,"v":0.03},{"t":"t=0.86","r":11,"c":6,"v":0.03},{"t":"t=0.86","r":11,"c":7,"v":0.03},{"t":"t=0.86","r":11,"c":8,"v":0.03},
{"t":"t=0.86","r":12,"c":0,"v":0.64},{"t":"t=0.86","r":12,"c":1,"v":0.93},{"t":"t=0.86","r":12,"c":2,"v":0.03},{"t":"t=0.86","r":12,"c":3,"v":0.02},{"t":"t=0.86","r":12,"c":4,"v":0.02},{"t":"t=0.86","r":12,"c":5,"v":0.03},{"t":"t=0.86","r":12,"c":6,"v":0.03},{"t":"t=0.86","r":12,"c":7,"v":0.03},{"t":"t=0.86","r":12,"c":8,"v":0.03},
{"t":"t=0.86","r":13,"c":0,"v":0.06},{"t":"t=0.86","r":13,"c":1,"v":0.05},{"t":"t=0.86","r":13,"c":2,"v":0.02},{"t":"t=0.86","r":13,"c":3,"v":0.05},{"t":"t=0.86","r":13,"c":4,"v":0.03},{"t":"t=0.86","r":13,"c":5,"v":0.02},{"t":"t=0.86","r":13,"c":6,"v":0.02},{"t":"t=0.86","r":13,"c":7,"v":0.03},{"t":"t=0.86","r":13,"c":8,"v":0.02},
{"t":"t=0.86","r":14,"c":0,"v":0.03},{"t":"t=0.86","r":14,"c":1,"v":0.05},{"t":"t=0.86","r":14,"c":2,"v":0.84},{"t":"t=0.86","r":14,"c":3,"v":0.05},{"t":"t=0.86","r":14,"c":4,"v":0.02},{"t":"t=0.86","r":14,"c":5,"v":0.03},{"t":"t=0.86","r":14,"c":6,"v":0.05},{"t":"t=0.86","r":14,"c":7,"v":0.04},{"t":"t=0.86","r":14,"c":8,"v":0.02},
{"t":"t=0.86","r":15,"c":0,"v":0.03},{"t":"t=0.86","r":15,"c":1,"v":0.04},{"t":"t=0.86","r":15,"c":2,"v":0.03},{"t":"t=0.86","r":15,"c":3,"v":0.03},{"t":"t=0.86","r":15,"c":4,"v":0.04},{"t":"t=0.86","r":15,"c":5,"v":0.03},{"t":"t=0.86","r":15,"c":6,"v":0.03},{"t":"t=0.86","r":15,"c":7,"v":0.04},{"t":"t=0.86","r":15,"c":8,"v":0.04},

{"t":"t=1.00","r":0,"c":0,"v":0.96},{"t":"t=1.00","r":0,"c":1,"v":0.03},{"t":"t=1.00","r":0,"c":2,"v":0.42},{"t":"t=1.00","r":0,"c":3,"v":0.02},{"t":"t=1.00","r":0,"c":4,"v":0.03},{"t":"t=1.00","r":0,"c":5,"v":0.05},{"t":"t=1.00","r":0,"c":6,"v":0.03},{"t":"t=1.00","r":0,"c":7,"v":0.02},{"t":"t=1.00","r":0,"c":8,"v":0.15},
{"t":"t=1.00","r":1,"c":0,"v":0.03},{"t":"t=1.00","r":1,"c":1,"v":0.03},{"t":"t=1.00","r":1,"c":2,"v":0.03},{"t":"t=1.00","r":1,"c":3,"v":0.03},{"t":"t=1.00","r":1,"c":4,"v":0.05},{"t":"t=1.00","r":1,"c":5,"v":0.03},{"t":"t=1.00","r":1,"c":6,"v":0.03},{"t":"t=1.00","r":1,"c":7,"v":0.03},{"t":"t=1.00","r":1,"c":8,"v":0.04},
{"t":"t=1.00","r":2,"c":0,"v":0.4},{"t":"t=1.00","r":2,"c":1,"v":0.03},{"t":"t=1.00","r":2,"c":2,"v":0.94},{"t":"t=1.00","r":2,"c":3,"v":0.02},{"t":"t=1.00","r":2,"c":4,"v":0.03},{"t":"t=1.00","r":2,"c":5,"v":0.05},{"t":"t=1.00","r":2,"c":6,"v":0.03},{"t":"t=1.00","r":2,"c":7,"v":0.05},{"t":"t=1.00","r":2,"c":8,"v":0.02},
{"t":"t=1.00","r":3,"c":0,"v":0.02},{"t":"t=1.00","r":3,"c":1,"v":0.05},{"t":"t=1.00","r":3,"c":2,"v":0.03},{"t":"t=1.00","r":3,"c":3,"v":0.05},{"t":"t=1.00","r":3,"c":4,"v":0.03},{"t":"t=1.00","r":3,"c":5,"v":0.02},{"t":"t=1.00","r":3,"c":6,"v":0.05},{"t":"t=1.00","r":3,"c":7,"v":0.02},{"t":"t=1.00","r":3,"c":8,"v":0.05},
{"t":"t=1.00","r":4,"c":0,"v":1.0},{"t":"t=1.00","r":4,"c":1,"v":0.94},{"t":"t=1.00","r":4,"c":2,"v":0.44},{"t":"t=1.00","r":4,"c":3,"v":0.04},{"t":"t=1.00","r":4,"c":4,"v":0.03},{"t":"t=1.00","r":4,"c":5,"v":0.03},{"t":"t=1.00","r":4,"c":6,"v":0.02},{"t":"t=1.00","r":4,"c":7,"v":0.05},{"t":"t=1.00","r":4,"c":8,"v":0.04},
{"t":"t=1.00","r":5,"c":0,"v":0.01},{"t":"t=1.00","r":5,"c":1,"v":0.04},{"t":"t=1.00","r":5,"c":2,"v":0.03},{"t":"t=1.00","r":5,"c":3,"v":0.03},{"t":"t=1.00","r":5,"c":4,"v":0.0},{"t":"t=1.00","r":5,"c":5,"v":0.03},{"t":"t=1.00","r":5,"c":6,"v":0.04},{"t":"t=1.00","r":5,"c":7,"v":0.04},{"t":"t=1.00","r":5,"c":8,"v":0.03},
{"t":"t=1.00","r":6,"c":0,"v":0.19},{"t":"t=1.00","r":6,"c":1,"v":0.02},{"t":"t=1.00","r":6,"c":2,"v":0.92},{"t":"t=1.00","r":6,"c":3,"v":0.04},{"t":"t=1.00","r":6,"c":4,"v":0.03},{"t":"t=1.00","r":6,"c":5,"v":0.03},{"t":"t=1.00","r":6,"c":6,"v":0.06},{"t":"t=1.00","r":6,"c":7,"v":0.03},{"t":"t=1.00","r":6,"c":8,"v":0.02},
{"t":"t=1.00","r":7,"c":0,"v":0.03},{"t":"t=1.00","r":7,"c":1,"v":0.05},{"t":"t=1.00","r":7,"c":2,"v":0.03},{"t":"t=1.00","r":7,"c":3,"v":0.04},{"t":"t=1.00","r":7,"c":4,"v":0.06},{"t":"t=1.00","r":7,"c":5,"v":0.03},{"t":"t=1.00","r":7,"c":6,"v":0.05},{"t":"t=1.00","r":7,"c":7,"v":0.04},{"t":"t=1.00","r":7,"c":8,"v":0.02},
{"t":"t=1.00","r":8,"c":0,"v":1.0},{"t":"t=1.00","r":8,"c":1,"v":0.63},{"t":"t=1.00","r":8,"c":2,"v":0.38},{"t":"t=1.00","r":8,"c":3,"v":0.02},{"t":"t=1.00","r":8,"c":4,"v":0.02},{"t":"t=1.00","r":8,"c":5,"v":0.04},{"t":"t=1.00","r":8,"c":6,"v":0.04},{"t":"t=1.00","r":8,"c":7,"v":0.02},{"t":"t=1.00","r":8,"c":8,"v":0.29},
{"t":"t=1.00","r":9,"c":0,"v":0.04},{"t":"t=1.00","r":9,"c":1,"v":0.02},{"t":"t=1.00","r":9,"c":2,"v":0.07},{"t":"t=1.00","r":9,"c":3,"v":0.04},{"t":"t=1.00","r":9,"c":4,"v":0.05},{"t":"t=1.00","r":9,"c":5,"v":0.04},{"t":"t=1.00","r":9,"c":6,"v":0.02},{"t":"t=1.00","r":9,"c":7,"v":0.03},{"t":"t=1.00","r":9,"c":8,"v":0.04},
{"t":"t=1.00","r":10,"c":0,"v":0.06},{"t":"t=1.00","r":10,"c":1,"v":0.02},{"t":"t=1.00","r":10,"c":2,"v":0.97},{"t":"t=1.00","r":10,"c":3,"v":0.03},{"t":"t=1.00","r":10,"c":4,"v":0.03},{"t":"t=1.00","r":10,"c":5,"v":0.07},{"t":"t=1.00","r":10,"c":6,"v":0.02},{"t":"t=1.00","r":10,"c":7,"v":0.04},{"t":"t=1.00","r":10,"c":8,"v":0.04},
{"t":"t=1.00","r":11,"c":0,"v":0.03},{"t":"t=1.00","r":11,"c":1,"v":0.03},{"t":"t=1.00","r":11,"c":2,"v":0.05},{"t":"t=1.00","r":11,"c":3,"v":0.02},{"t":"t=1.00","r":11,"c":4,"v":0.02},{"t":"t=1.00","r":11,"c":5,"v":0.04},{"t":"t=1.00","r":11,"c":6,"v":0.03},{"t":"t=1.00","r":11,"c":7,"v":0.02},{"t":"t=1.00","r":11,"c":8,"v":0.03},
{"t":"t=1.00","r":12,"c":0,"v":1.0},{"t":"t=1.00","r":12,"c":1,"v":0.94},{"t":"t=1.00","r":12,"c":2,"v":0.46},{"t":"t=1.00","r":12,"c":3,"v":0.02},{"t":"t=1.00","r":12,"c":4,"v":0.02},{"t":"t=1.00","r":12,"c":5,"v":0.02},{"t":"t=1.00","r":12,"c":6,"v":0.03},{"t":"t=1.00","r":12,"c":7,"v":0.02},{"t":"t=1.00","r":12,"c":8,"v":0.03},
{"t":"t=1.00","r":13,"c":0,"v":0.04},{"t":"t=1.00","r":13,"c":1,"v":0.04},{"t":"t=1.00","r":13,"c":2,"v":0.04},{"t":"t=1.00","r":13,"c":3,"v":0.02},{"t":"t=1.00","r":13,"c":4,"v":0.02},{"t":"t=1.00","r":13,"c":5,"v":0.02},{"t":"t=1.00","r":13,"c":6,"v":0.02},{"t":"t=1.00","r":13,"c":7,"v":0.04},{"t":"t=1.00","r":13,"c":8,"v":0.03},
{"t":"t=1.00","r":14,"c":0,"v":0.29},{"t":"t=1.00","r":14,"c":1,"v":0.05},{"t":"t=1.00","r":14,"c":2,"v":0.97},{"t":"t=1.00","r":14,"c":3,"v":0.03},{"t":"t=1.00","r":14,"c":4,"v":0.02},{"t":"t=1.00","r":14,"c":5,"v":0.02},{"t":"t=1.00","r":14,"c":6,"v":0.05},{"t":"t=1.00","r":14,"c":7,"v":0.04},{"t":"t=1.00","r":14,"c":8,"v":0.01},
{"t":"t=1.00","r":15,"c":0,"v":0.03},{"t":"t=1.00","r":15,"c":1,"v":0.02},{"t":"t=1.00","r":15,"c":2,"v":0.04},{"t":"t=1.00","r":15,"c":3,"v":0.03},{"t":"t=1.00","r":15,"c":4,"v":0.05},{"t":"t=1.00","r":15,"c":5,"v":0.02},{"t":"t=1.00","r":15,"c":6,"v":0.12},{"t":"t=1.00","r":15,"c":7,"v":0.02},{"t":"t=1.00","r":15,"c":8,"v":0.04}
]},
"facet": {"column": {"field": "t", "type": "nominal", "header": {"title": null, "labelFontSize": 32, "labelFont": "DejaVu Sans", "labelColor": "#000000", "labelPadding": 14}}},
"spacing": 29.4,
"spec": {
  "width": 407,
  "height": 337,
  "mark": {"type": "rect"},
  "encoding": {
    "x": {"field": "c", "type": "ordinal", "axis": null, "scale": {"paddingInner": 0, "paddingOuter": 0}},
    "y": {"field": "r", "type": "ordinal", "axis": null, "scale": {"paddingInner": 0, "paddingOuter": 0}},
    "color": {"field": "v", "type": "quantitative", "scale": {"domain": [0, 1], "range": ["#ffffff", "#000000"], "interpolate": "rgb"}, "legend": null}
  }
},
"config": {"view": {"stroke": null}, "background": "#ffffff"}
}
